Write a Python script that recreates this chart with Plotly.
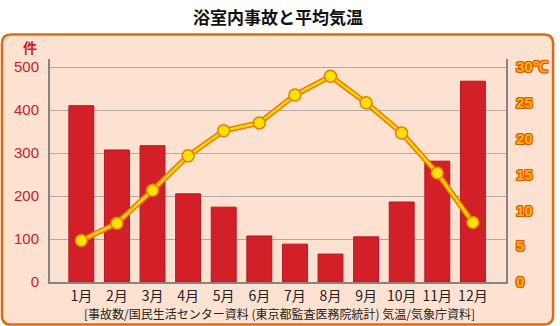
import plotly.graph_objects as go

# Monthly bathroom accident counts and average air temperature
months = ["1月", "2月", "3月", "4月", "5月", "6月", "7月", "8月", "9月", "10月", "11月", "12月"]
accidents = [410, 307, 317, 205, 174, 107, 88, 65, 105, 186, 281, 467]
avg_temp = [5.8, 8.2, 12.8, 17.6, 21.1, 22.2, 26.1, 28.7, 25.0, 20.8, 15.2, 8.3]

left_ticks = [0, 100, 200, 300, 400, 500]
right_ticks = [0, 5, 10, 15, 20, 25, 30]
right_ticktext = ["0", "5", "10", "15", "20", "25", "30℃"]

W, H = 560, 326
ML, MR, MT, MB = 50, 50, 59, 44
PW, PH = W - ML - MR, H - MT - MB
Y_TOP = 500 * PH / (282 - 67)          # value range so that 500 sits below the axis top
T_TOP = Y_TOP * 30 / 500

FONT = "Noto Sans CJK JP"


def px_to_paper(px, py):
    return (px - ML) / PW, (H - MB - py) / PH


def rounded_box(x0, y0, x1, y1, r):
    def P(x, y):
        a, b = px_to_paper(x, y)
        return f"{a:.5f},{b:.5f}"
    d = f"M {P(x0 + r, y0)} L {P(x1 - r, y0)} Q {P(x1, y0)} {P(x1, y0 + r)} "
    d += f"L {P(x1, y1 - r)} Q {P(x1, y1)} {P(x1 - r, y1)} "
    d += f"L {P(x0 + r, y1)} Q {P(x0, y1)} {P(x0, y1 - r)} "
    d += f"L {P(x0, y0 + r)} Q {P(x0, y0)} {P(x0 + r, y0)} Z"
    return d


fig = go.Figure()

fig.add_trace(go.Bar(
    x=list(range(12)), y=accidents, width=0.7,
    marker=dict(color="#d21f28", line=dict(color="#b8161f", width=1)),
    yaxis="y", showlegend=False,
))

# temperature line: orange casing under a yellow core
fig.add_trace(go.Scatter(
    x=list(range(12)), y=avg_temp, yaxis="y2", mode="lines",
    line=dict(color="#e67c00", width=5.5), showlegend=False, hoverinfo="skip",
))
fig.add_trace(go.Scatter(
    x=list(range(12)), y=avg_temp, yaxis="y2", mode="lines+markers",
    line=dict(color="#ffd400", width=2.5),
    marker=dict(size=12, color="#ffe000", line=dict(color="#e67c00", width=1.5)),
    showlegend=False,
))

outline = "#d85a00"
shadow = ", ".join(f"{dx}px {dy}px 0 {outline}" for dx, dy in
                   [(1, 0), (-1, 0), (0, 1), (0, -1), (1, 1), (-1, -1), (1, -1), (-1, 1)])

fig.update_layout(
    width=W, height=H,
    margin=dict(l=ML, r=MR, t=MT, b=MB),
    paper_bgcolor="white", plot_bgcolor="rgba(0,0,0,0)",
    font=dict(family=FONT),
    xaxis=dict(
        range=[-0.88, 11.93], tickvals=list(range(12)), ticktext=months,
        showgrid=False, showline=True, linecolor="#858585", linewidth=2,
        ticks="", tickfont=dict(size=14, color="#222222"), zeroline=False,
    ),
    yaxis=dict(
        range=[0, Y_TOP], tickvals=left_ticks, showgrid=True,
        gridcolor="#b0aaa6", gridwidth=1, showline=True, linecolor="#858585",
        linewidth=2, ticks="", tickfont=dict(size=15, color="#c8202a", family="Liberation Sans"),
        ticklabelstandoff=6, zeroline=False,
    ),
    yaxis2=dict(
        range=[0, T_TOP], overlaying="y", side="right", tickvals=right_ticks,
        ticktext=right_ticktext, showgrid=False, showline=True,
        linecolor="#858585", linewidth=2, ticks="", zeroline=False,
        tickfont=dict(size=15, color="#ffb300", family="Liberation Sans",
                      weight="bold", shadow=shadow),
        ticklabelstandoff=5,
    ),
    bargap=0.3,
)

fig.add_shape(type="path", xref="paper", yref="paper",
              path=rounded_box(1.5, 34.5, 557.5, 324.5, 9),
              fillcolor="#fde2d1", line=dict(color="#e06a12", width=2.5), layer="below")

fig.add_annotation(text="<b>浴室内事故と平均気温</b>", xref="paper", yref="paper",
                   x=px_to_paper(280, 17)[0], y=px_to_paper(280, 17)[1],
                   showarrow=False, font=dict(size=17, color="#111111", family=FONT),
                   xanchor="center", yanchor="middle")
fig.add_annotation(text="<b>件</b>", xref="paper", yref="paper",
                   x=px_to_paper(30, 47)[0], y=px_to_paper(30, 47)[1],
                   showarrow=False, font=dict(size=14, color="#c8202a", family=FONT),
                   xanchor="center", yanchor="middle")
fig.add_annotation(text="[事故数/国民生活センター資料 (東京都監査医務院統計) 気温/気象庁資料]",
                   xref="paper", yref="paper",
                   x=px_to_paper(282, 313)[0], y=px_to_paper(282, 313)[1],
                   showarrow=False, font=dict(size=12, color="#222222", family=FONT),
                   xanchor="center", yanchor="middle")

fig.write_html("out.html")
